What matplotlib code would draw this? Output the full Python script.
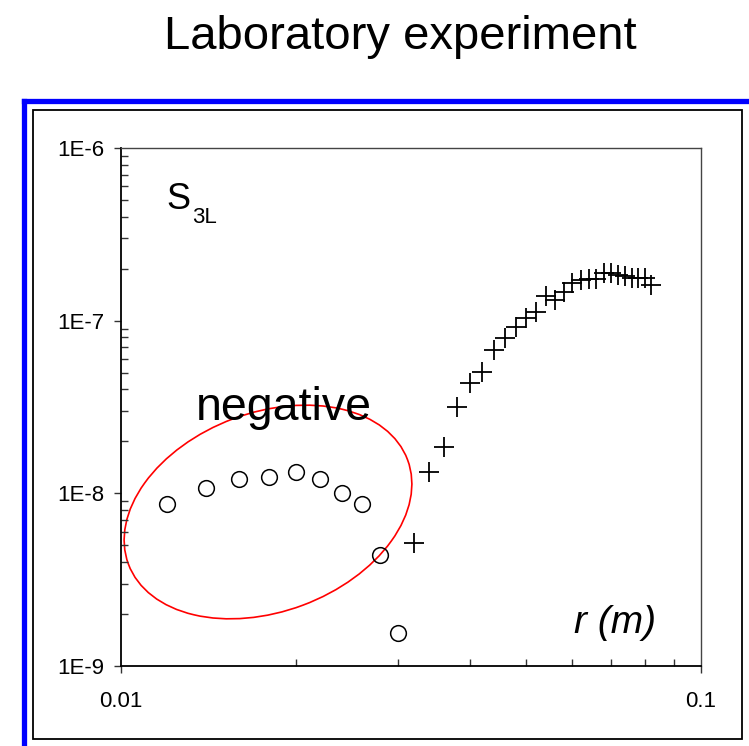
import numpy as np
import matplotlib.pyplot as plt
from matplotlib.patches import Ellipse, Rectangle
from matplotlib.lines import Line2D
from matplotlib.ticker import LogLocator, NullFormatter

plt.rcParams['font.family'] = ['Liberation Sans', 'DejaVu Sans']

# negative values of S3L (plotted as magnitude)
r_neg = [0.012, 0.014, 0.016, 0.018, 0.020, 0.022, 0.024, 0.026, 0.028, 0.030]
s_neg = [8.7e-9, 1.07e-8, 1.21e-8, 1.24e-8, 1.33e-8, 1.21e-8, 1.0e-8, 8.7e-9, 4.4e-9, 1.56e-9]

# positive values of S3L
r_pos = [0.032, 0.034, 0.036, 0.038, 0.040, 0.042, 0.044, 0.046, 0.048, 0.050,
         0.052, 0.054, 0.056, 0.058, 0.060, 0.062, 0.064, 0.066, 0.068, 0.070,
         0.072, 0.074, 0.076, 0.078, 0.080, 0.082]
s_pos = [5.18e-9, 1.33e-8, 1.86e-8, 3.18e-8, 4.34e-8, 5.02e-8, 6.77e-8, 7.97e-8, 9.16e-8, 1.04e-7,
         1.12e-7, 1.39e-7, 1.32e-7, 1.47e-7, 1.65e-7, 1.72e-7, 1.74e-7, 1.74e-7, 1.88e-7, 1.88e-7,
         1.84e-7, 1.81e-7, 1.77e-7, 1.77e-7, 1.77e-7, 1.61e-7]

y_ticks = [1e-9, 1e-8, 1e-7, 1e-6]
y_tick_labels = ['1E-9', '1E-8', '1E-7', '1E-6']
x_ticks = [0.01, 0.1]
x_tick_labels = ['0.01', '0.1']

W, H = 749, 746
fig = plt.figure(figsize=(W / 100, H / 100), dpi=100)


def fx(px):
    return px / W


def fy(py):
    return 1 - py / H


# outer blue frame and inner black box
fig.add_artist(Line2D([fx(24.5), 1.0], [fy(100.5), fy(100.5)], color='#0000ff', lw=3.8))
fig.add_artist(Line2D([fx(24.5), fx(24.5)], [fy(100.5), 0.0], color='#0000ff', lw=3.8))
fig.add_artist(Rectangle((fx(33), fy(739)), fx(742) - fx(33), fy(110) - fy(739),
                         transform=fig.transFigure, fill=False, ec='black', lw=1.3))

ax = fig.add_axes([fx(121), fy(666), fx(701) - fx(121), fy(148) - fy(666)])
ax.set_xscale('log')
ax.set_yscale('log')
ax.set_xlim(0.01, 0.1)
ax.set_ylim(1e-9, 1e-6)

ax.plot(r_neg, s_neg, 'o', ms=11.3, mfc='none', mec='black', mew=1.1)
ax.plot(r_pos, s_pos, '+', ms=14, color='black', mew=1.3)

ax.set_yticks(y_ticks, labels=y_tick_labels)
ax.set_xticks(x_ticks, labels=x_tick_labels)
ax.yaxis.set_minor_locator(LogLocator(base=10, subs=np.arange(2, 10)))
ax.xaxis.set_minor_locator(LogLocator(base=10, subs=np.arange(2, 10)))
ax.yaxis.set_minor_formatter(NullFormatter())
ax.xaxis.set_minor_formatter(NullFormatter())
ax.tick_params(which='major', direction='out', length=5, width=1, labelsize=16, colors='#333333',
               labelcolor='black')
ax.tick_params(axis='y', which='major', pad=7)
ax.tick_params(axis='x', which='major', pad=13)
ax.tick_params(which='minor', direction='in', length=5, width=1, colors='#333333')

for side in ['left', 'bottom']:
    ax.spines[side].set_linewidth(1.3)
    ax.spines[side].set_color('black')
for side in ['top', 'right']:
    ax.spines[side].set_linewidth(1.0)
    ax.spines[side].set_color('#444444')

# red loop around the negative points
ax.add_patch(Ellipse((2.68, H / 100 - 5.12), 2.98, 1.99, angle=20.5, fill=False,
                     ec='#ff0000', lw=1.2, transform=fig.dpi_scale_trans))

# labels
fig.text(fx(400), fy(49), 'Laboratory experiment', fontsize=34, ha='center', va='baseline')
fig.text(fx(166), fy(209), 'S', fontsize=26, va='baseline')
fig.text(fx(192), fy(223), '3L', fontsize=16, va='baseline')
fig.text(fx(196), fy(420), 'negative', fontsize=33.5, va='baseline')
fig.text(fx(574), fy(633), 'r (m)', fontsize=28, style='italic', va='baseline')

fig.savefig('out.png', dpi=100)
